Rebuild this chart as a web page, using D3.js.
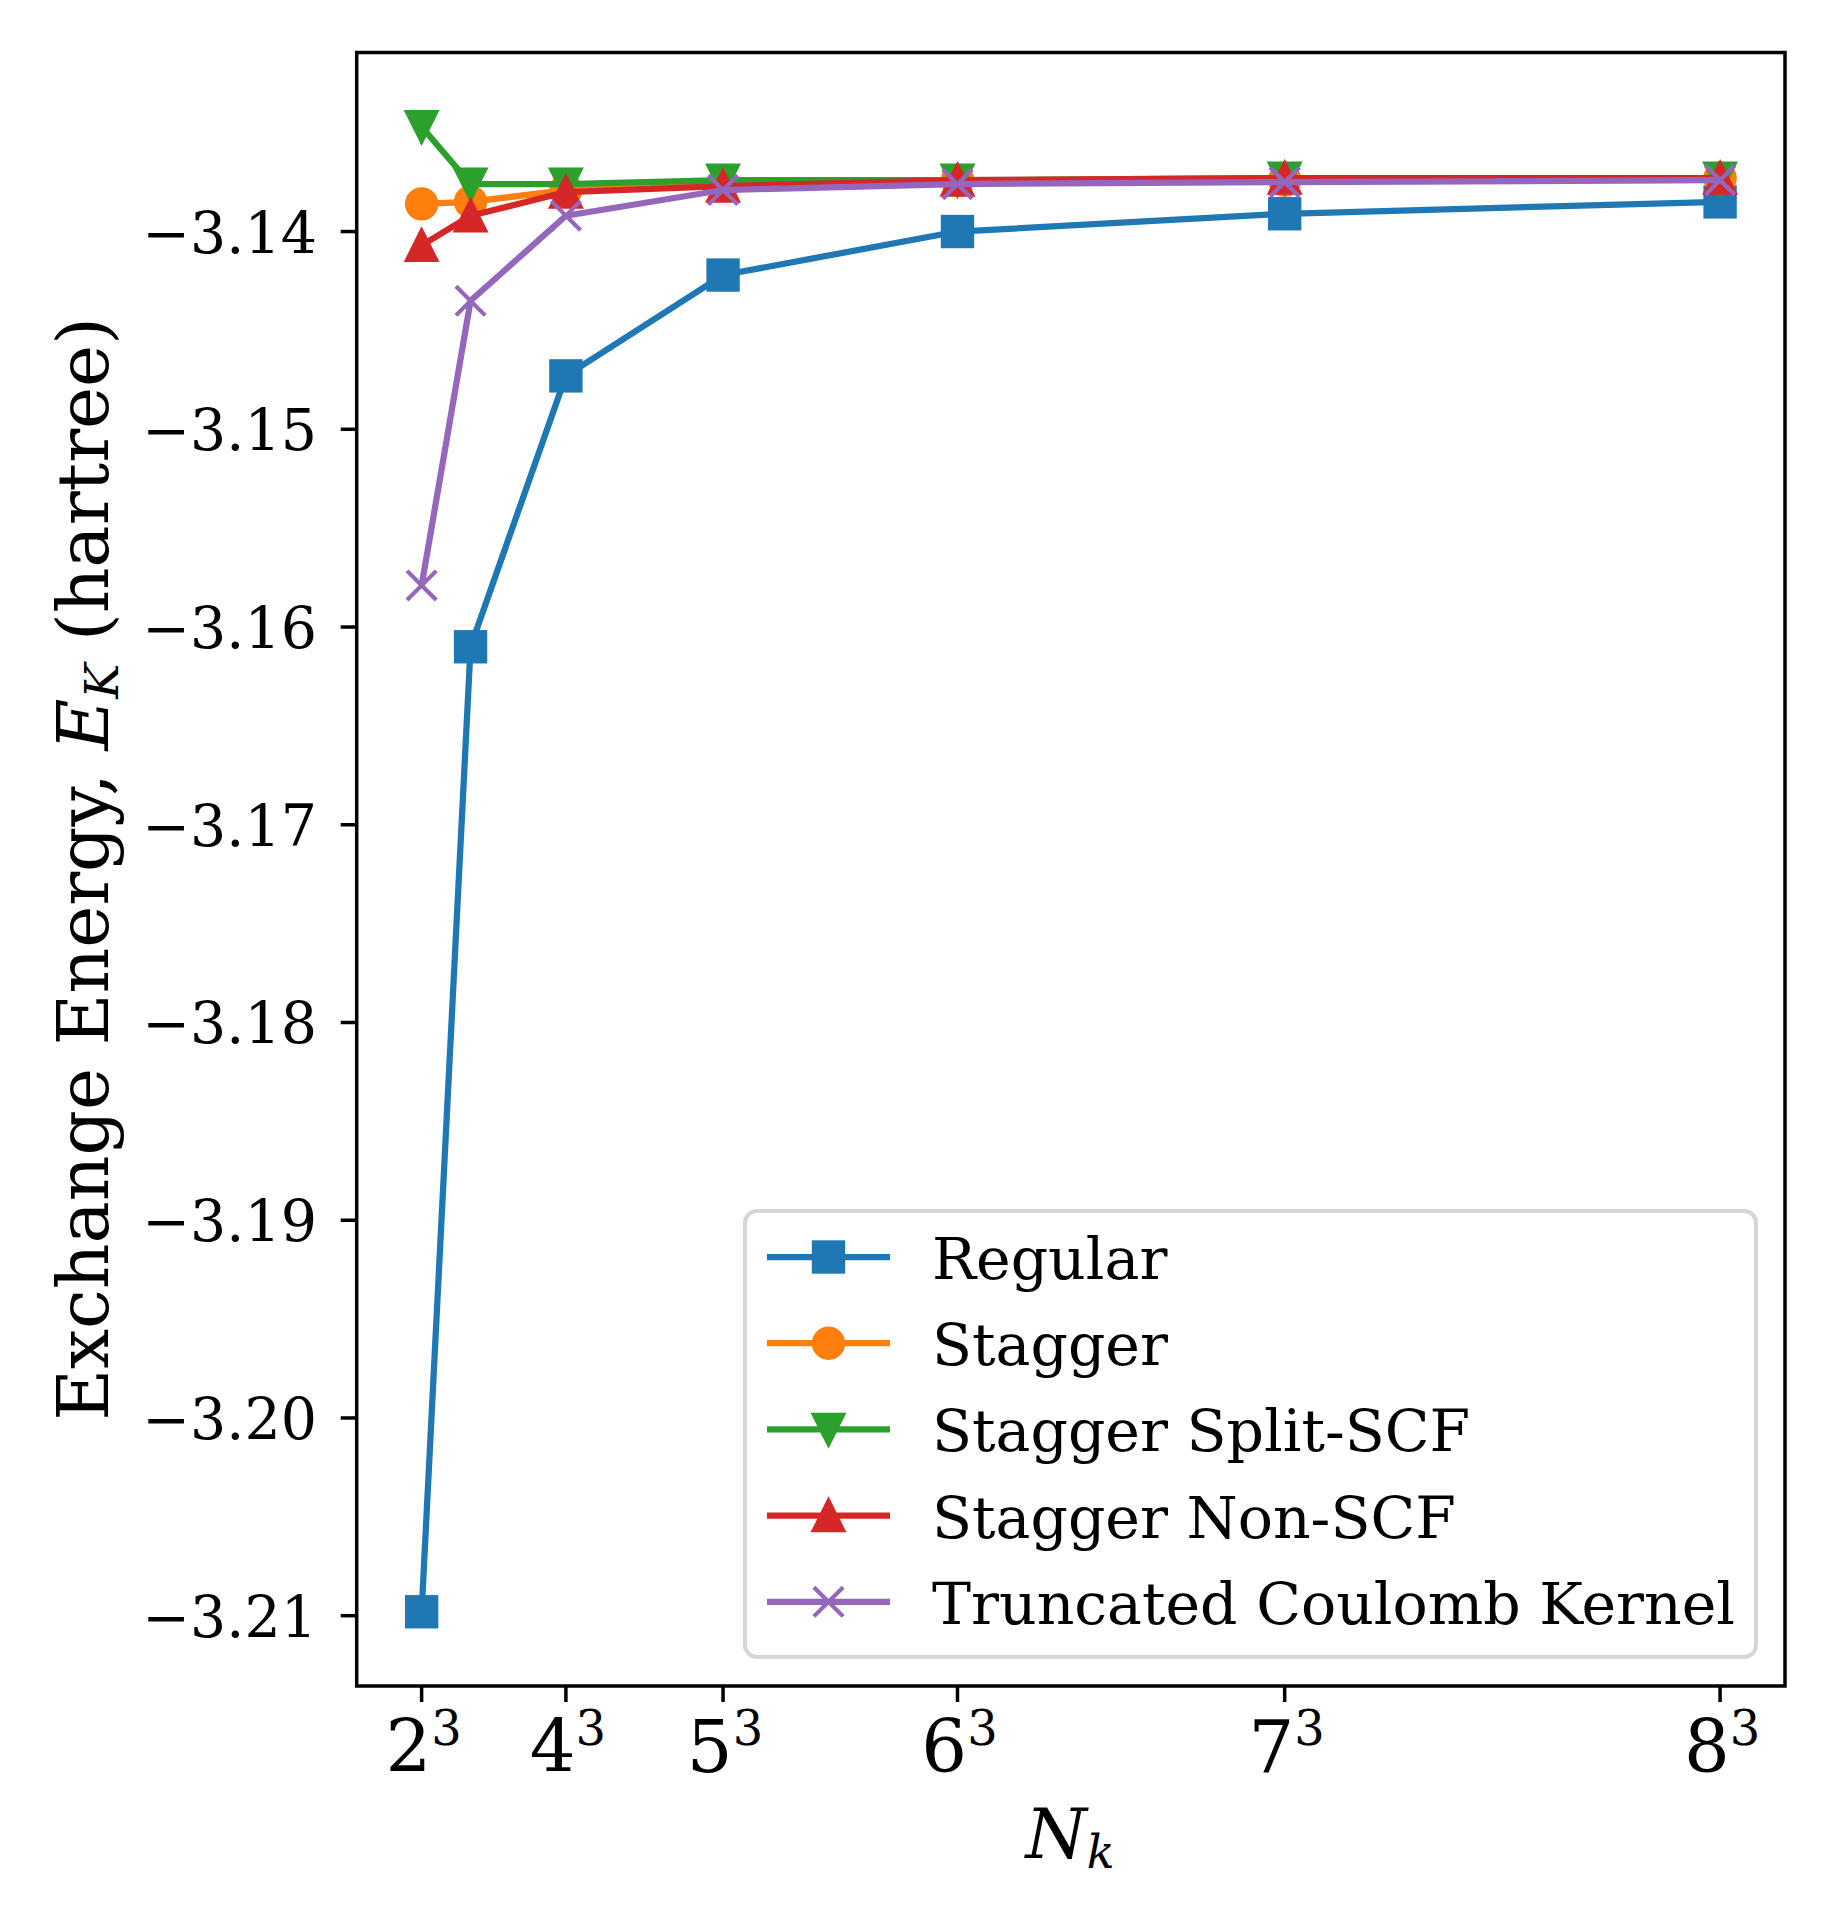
<!DOCTYPE html>
<html lang="en">
<head>
<meta charset="UTF-8">
<title>Exchange Energy vs N_k</title>
<script src="https://d3js.org/d3.v7.min.js"></script>
<style>
  body { margin: 0; background: #fff; }
  svg { display: block; font-family: "DejaVu Serif", serif; }
</style>
</head>
<body>
<svg id="chart" width="1837" height="1925"></svg>
<script>
// k-point counts (2^3 ... 8^3)
const nk = [8, 27, 64, 125, 216, 343, 512];

// exchange energies (hartree)
const regular     = [-3.2098, -3.1610, -3.1473, -3.1422, -3.1400, -3.1391, -3.1385];
const stagger     = [-3.1386, -3.1385, -3.1379, -3.1376, -3.1374, -3.1374, -3.1373];
const splitScf    = [-3.1347, -3.1376, -3.1376, -3.1374, -3.1374, -3.1373, -3.1373];
const nonScf      = [-3.1407, -3.1392, -3.1380, -3.1377, -3.1374, -3.1373, -3.1373];
const truncated   = [-3.1579, -3.1435, -3.1392, -3.1379, -3.1376, -3.1375, -3.1374];

const seriesNames  = ["Regular", "Stagger", "Stagger Split-SCF", "Stagger Non-SCF", "Truncated Coulomb Kernel"];
const seriesColors = ["#1f77b4", "#ff7f0e", "#2ca02c", "#d62728", "#9467bd"];
const seriesMarks  = ["square", "circle", "tridown", "triup", "x"];
const seriesValues = [regular, stagger, splitScf, nonScf, truncated];

const xTickValues = [8, 64, 125, 216, 343, 512];
const xTickBases  = ["2", "4", "5", "6", "7", "8"];
const yTickValues = [-3.21, -3.20, -3.19, -3.18, -3.17, -3.16, -3.15, -3.14];

const svg = d3.select("#chart");

const plot = { left: 356.7, right: 1785, top: 52.5, bottom: 1686 };

// matplotlib style 5% margins
function padded(ext) {
    const m = (ext[1] - ext[0]) * 0.05;
    return [ext[0] - m, ext[1] + m];
}
const allY = seriesValues.flat();

const x = d3.scaleLinear().domain(padded(d3.extent(nk))).range([plot.left, plot.right]);
const y = d3.scaleLinear().domain(padded(d3.extent(allY))).range([plot.bottom, plot.top]);

const LW = 6.25;     // 1.5pt line
const MEW = 4.17;    // marker edge
const MS = 29.2;     // marker size

function drawMarker(g, type, cx, cy, color) {
    const h = MS / 2;
    if (type === "square") {
        g.append("rect").attr("x", cx - h).attr("y", cy - h).attr("width", MS).attr("height", MS)
            .attr("fill", color).attr("stroke", color).attr("stroke-width", MEW).attr("stroke-linejoin", "miter");
    } else if (type === "circle") {
        g.append("circle").attr("cx", cx).attr("cy", cy).attr("r", h)
            .attr("fill", color).attr("stroke", color).attr("stroke-width", MEW);
    } else if (type === "tridown") {
        g.append("path").attr("d", `M${cx},${cy + h}L${cx - h},${cy - h}L${cx + h},${cy - h}Z`)
            .attr("fill", color).attr("stroke", color).attr("stroke-width", MEW).attr("stroke-linejoin", "miter");
    } else if (type === "triup") {
        g.append("path").attr("d", `M${cx},${cy - h}L${cx - h},${cy + h}L${cx + h},${cy + h}Z`)
            .attr("fill", color).attr("stroke", color).attr("stroke-width", MEW).attr("stroke-linejoin", "miter");
    } else if (type === "x") {
        g.append("path").attr("d", `M${cx - h},${cy - h}L${cx + h},${cy + h}M${cx - h},${cy + h}L${cx + h},${cy - h}`)
            .attr("fill", "none").attr("stroke", color).attr("stroke-width", MEW);
    }
}

// series: line then markers, in plotting order
const line = d3.line().x((d, i) => x(nk[i])).y(d => y(d));
seriesValues.forEach((vals, s) => {
    const g = svg.append("g");
    g.append("path").datum(vals).attr("d", line)
        .attr("fill", "none").attr("stroke", seriesColors[s])
        .attr("stroke-width", LW).attr("stroke-linejoin", "round").attr("stroke-linecap", "butt");
    vals.forEach((v, i) => drawMarker(g, seriesMarks[s], x(nk[i]), y(v), seriesColors[s]));
});

// axes frame
svg.append("rect")
    .attr("x", plot.left).attr("y", plot.top)
    .attr("width", plot.right - plot.left).attr("height", plot.bottom - plot.top)
    .attr("fill", "none").attr("stroke", "#000").attr("stroke-width", 3.5);

// x ticks
const xt = svg.append("g");
xTickValues.forEach((v, i) => {
    const px = x(v);
    xt.append("line").attr("x1", px).attr("x2", px).attr("y1", plot.bottom).attr("y2", plot.bottom + 16)
        .attr("stroke", "#000").attr("stroke-width", 3.5);
    const t = xt.append("text").attr("x", px + 2).attr("y", 1771.5)
        .attr("text-anchor", "middle").attr("font-size", 72);
    t.append("tspan").text(xTickBases[i]);
    t.append("tspan").attr("font-size", 48).attr("dy", -27).text("3");
});

// y ticks
const yt = svg.append("g");
yTickValues.forEach(v => {
    const py = y(v);
    yt.append("line").attr("x1", plot.left - 16).attr("x2", plot.left).attr("y1", py).attr("y2", py)
        .attr("stroke", "#000").attr("stroke-width", 3.5);
    yt.append("text").attr("x", 317).attr("y", py + 21)
        .attr("text-anchor", "end").attr("font-size", 57)
        .text(d3.format(".2f")(v).replace("-", "\u2212"));
});

// axis labels
const xl = svg.append("text").attr("x", 1070).attr("y", 1858)
    .attr("text-anchor", "middle").attr("font-size", 70);
xl.append("tspan").attr("font-style", "italic").text("N");
xl.append("tspan").attr("font-style", "italic").attr("font-size", 46).attr("dy", 10).text("k");

const yl = svg.append("text").attr("transform", "translate(108,869) rotate(-90)")
    .attr("text-anchor", "middle").attr("font-size", 71);
yl.append("tspan").text("Exchange Energy, ");
yl.append("tspan").attr("font-style", "italic").text("E");
yl.append("tspan").attr("font-style", "italic").attr("font-size", 47).attr("dy", 10).text("K");
yl.append("tspan").attr("dy", -10).text(" (hartree)");

// legend
const leg = svg.append("g");
leg.append("rect").attr("x", 745).attr("y", 1211).attr("width", 1011).attr("height", 446)
    .attr("rx", 12).attr("ry", 12)
    .attr("fill", "#fff").attr("fill-opacity", 0.8)
    .attr("stroke", "#d6d6d6").attr("stroke-width", 4);
seriesNames.forEach((name, s) => {
    const cy = 1257 + s * 86.2;
    leg.append("line").attr("x1", 767).attr("x2", 890).attr("y1", cy).attr("y2", cy)
        .attr("stroke", seriesColors[s]).attr("stroke-width", LW);
    drawMarker(leg, seriesMarks[s], 828.5, cy, seriesColors[s]);
    leg.append("text").attr("x", 932).attr("y", cy + 22).attr("font-size", 58.5).text(name);
});
</script>
</body>
</html>
